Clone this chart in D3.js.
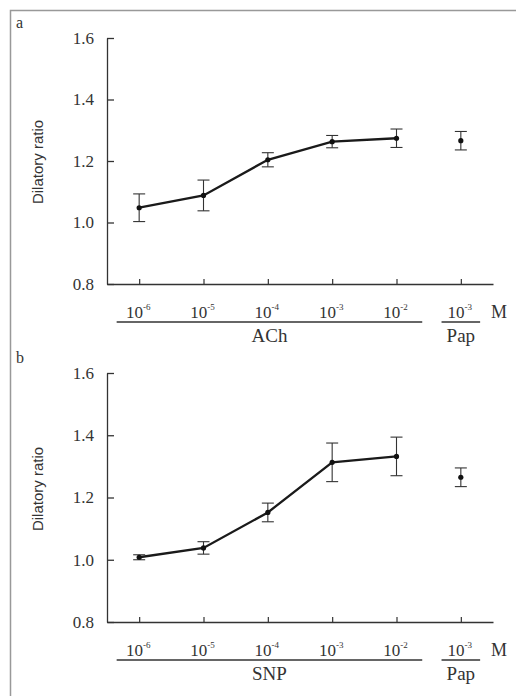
<!DOCTYPE html>
<html>
<head>
<meta charset="utf-8">
<script src="https://cdn.jsdelivr.net/npm/d3@7"></script>
<style>
  html, body { margin: 0; padding: 0; background: #fff; }
  svg { display: block; }
  text { fill: #333; }
</style>
</head>
<body>
<svg id="chart" width="516" height="696"></svg>
<script>
// ---------- data ----------
const categories = ["1e-6", "1e-5", "1e-4", "1e-3", "1e-2", "pap"];
const tickExponents = ["-6", "-5", "-4", "-3", "-2", "-3"];
const yTicks = [0.8, 1.0, 1.2, 1.4, 1.6];

const achMean = [1.048, 1.088, 1.204, 1.263, 1.274];
const achErr  = [0.045, 0.050, 0.023, 0.020, 0.030];
const achPapMean = 1.266;
const achPapErr  = 0.030;

const snpMean = [1.008, 1.038, 1.152, 1.313, 1.332];
const snpErr  = [0.008, 0.020, 0.030, 0.062, 0.062];
const snpPapMean = 1.265;
const snpPapErr  = 0.030;

const panelLabels = ["a", "b"];
const drugNames = ["ACh", "SNP"];
const papName = "Pap";
const unitLabel = "M";
const yTitle = "Dilatory ratio";

// ---------- layout ----------
const svg = d3.select("#chart");
const ink = "#333";
const serif = "'Liberation Serif', 'DejaVu Serif', serif";
const sans = "'Liberation Sans', Arial, sans-serif";

// frame (top and left edges)
svg.append("path")
  .attr("d", "M10.5,696 L10.5,10.5 L516,10.5")
  .attr("fill", "none").attr("stroke", "#999").attr("stroke-width", 1.5);

const x = d3.scalePoint().domain(categories).range([107, 493]).padding(0.5);

const panels = [
  { label: panelLabels[0], drug: drugNames[0], mean: achMean, err: achErr,
    papMean: achPapMean, papErr: achPapErr, top: 38, bottom: 284, labelY: 28, titleY: 162 },
  { label: panelLabels[1], drug: drugNames[1], mean: snpMean, err: snpErr,
    papMean: snpPapMean, papErr: snpPapErr, top: 373, bottom: 622, labelY: 363, titleY: 489 }
];

panels.forEach(p => {
  const y = d3.scaleLinear().domain([0.8, 1.6]).range([p.bottom, p.top]);
  const g = svg.append("g");

  // panel letter
  g.append("text").attr("x", 16).attr("y", p.labelY)
    .attr("font-family", serif).attr("font-size", 16).text(p.label);

  // y axis
  const ya = g.append("g").attr("transform", `translate(${x.range()[0]},0)`)
    .call(d3.axisLeft(y).tickValues(yTicks).tickFormat(d3.format(".1f"))
      .tickSize(-7).tickSizeOuter(0).tickPadding(13));
  ya.select(".domain").attr("stroke", ink).attr("stroke-width", 1.3);
  ya.selectAll(".tick line").attr("stroke", ink).attr("stroke-width", 1.3);
  ya.selectAll(".tick text").attr("font-family", serif).attr("font-size", 17).attr("fill", ink);

  // x axis
  const xa = g.append("g").attr("transform", `translate(0,${y(0.8)})`)
    .call(d3.axisBottom(x).tickFormat("").tickSize(-5).tickSizeOuter(0));
  xa.select(".domain").attr("stroke", ink).attr("stroke-width", 1.3);
  xa.selectAll(".tick line").attr("stroke", ink).attr("stroke-width", 1.2);

  // x tick labels 10^n
  const base = y(0.8) + 34;
  categories.forEach((c, i) => {
    const t = g.append("text").attr("x", x(c) - 1).attr("y", base)
      .attr("text-anchor", "middle").attr("font-family", serif).attr("font-size", 17);
    t.append("tspan").text("10");
    t.append("tspan").attr("dy", -8).attr("font-size", 9).text(tickExponents[i]);
  });

  // group underlines
  const step = x.step();
  const uy = y(0.8) + 38;
  g.append("line").attr("x1", x(categories[0]) - step * 0.35).attr("x2", x(categories[4]) + step * 0.4)
    .attr("y1", uy).attr("y2", uy).attr("stroke", ink).attr("stroke-width", 1.3);
  g.append("line").attr("x1", x(categories[5]) - step * 0.3).attr("x2", x(categories[5]) + step * 0.3)
    .attr("y1", uy).attr("y2", uy).attr("stroke", ink).attr("stroke-width", 1.3);

  g.append("text").attr("x", (x(categories[0]) - step * 0.35 + x(categories[4]) + step * 0.4) / 2)
    .attr("y", y(0.8) + 58).attr("text-anchor", "middle")
    .attr("font-family", serif).attr("font-size", 19).text(p.drug);
  g.append("text").attr("x", x(categories[5])).attr("y", y(0.8) + 58).attr("text-anchor", "middle")
    .attr("font-family", serif).attr("font-size", 19).text(papName);
  g.append("text").attr("x", x(categories[5]) + step * 0.47).attr("y", base)
    .attr("font-family", serif).attr("font-size", 18).text(unitLabel);

  // y title
  g.append("text").attr("transform", `translate(43,${p.titleY}) rotate(-90)`)
    .attr("text-anchor", "middle").attr("font-family", sans).attr("font-size", 15)
    .text(yTitle);

  // data
  const pts = p.mean.map((m, i) => ({ c: categories[i], m, e: p.err[i] }));
  const all = pts.concat([{ c: categories[5], m: p.papMean, e: p.papErr }]);

  const line = d3.line().x(d => x(d.c)).y(d => y(d.m));
  g.append("path").datum(pts).attr("d", line)
    .attr("fill", "none").attr("stroke", "#1a1a1a").attr("stroke-width", 2.3);

  const eb = g.selectAll(".eb").data(all).enter().append("g");
  eb.append("line").attr("x1", d => x(d.c)).attr("x2", d => x(d.c))
    .attr("y1", d => y(d.m - d.e)).attr("y2", d => y(d.m + d.e))
    .attr("stroke", ink).attr("stroke-width", 1.1);
  [1, -1].forEach(s => {
    eb.append("line").attr("x1", d => x(d.c) - 6).attr("x2", d => x(d.c) + 6)
      .attr("y1", d => y(d.m + s * d.e)).attr("y2", d => y(d.m + s * d.e))
      .attr("stroke", ink).attr("stroke-width", 1.1);
  });
  eb.append("circle").attr("cx", d => x(d.c)).attr("cy", d => y(d.m)).attr("r", 2.6)
    .attr("fill", "#111");
});
</script>
</body>
</html>
